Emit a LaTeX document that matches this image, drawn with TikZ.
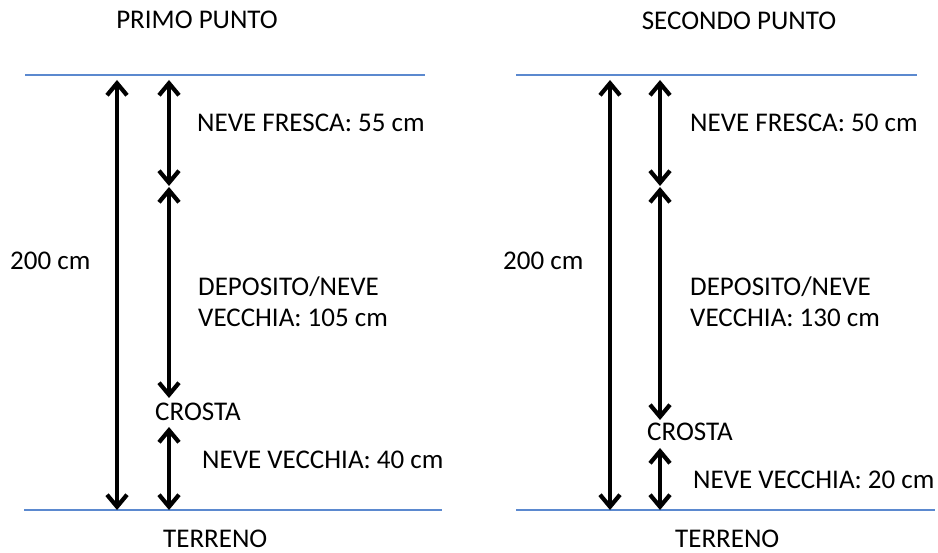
\documentclass[tikz,border=0pt]{standalone}
\usepackage{fontspec}
\setmainfont{Carlito}
\usetikzlibrary{arrows.meta}
\definecolor{lineblue}{RGB}{91,137,207}
\begin{document}
\begin{tikzpicture}[x=1pt,y=-1pt,
  ground/.style={draw=lineblue,line width=1.3pt},
  dim/.style={line width=4.2pt,{Straight Barb[length=12pt,width=20pt,line width=4.2pt]}-{Straight Barb[length=12pt,width=20pt,line width=4.2pt]}},
  lbl/.style={anchor=west,inner sep=0pt,font=\fontsize{27}{31}\selectfont,align=left},
  ttl/.style={anchor=center,inner sep=0pt,font=\fontsize{27}{31}\selectfont}]
\useasboundingbox (0,0) rectangle (938,553);
% ---------- left panel ----------
\coordinate (Ltl) at (25,75);
\coordinate (Ltr) at (425,75);
\coordinate (Lbl) at (24,510);
\coordinate (Lbr) at (442,510);
\draw[ground] (Ltl) -- (Ltr);
\draw[ground] (Lbl) -- (Lbr);
\node[ttl] (Ltitle) at (197,20) {PRIMO PUNTO};
\coordinate (LA1) at (117,80);
\coordinate (LA2) at (117,510);
\draw[dim] (LA1) -- (LA2);
\coordinate (LB1) at (169,80);
\coordinate (LB2) at (169,186);
\coordinate (LC1) at (169,187);
\coordinate (LC2) at (169,398);
\coordinate (LD1) at (169,427);
\coordinate (LD2) at (169,510);
\draw[dim] (LB1) -- (LB2);
\draw[dim] (LC1) -- (LC2);
\draw[dim] (LD1) -- (LD2);
\node[lbl] (Lfresca) at (197,123) {NEVE FRESCA: 55 cm};
\node[lbl] (Ltot) at (10,261) {200 cm};
\node[lbl] (Ldep) at (198,302) {DEPOSITO/NEVE\\VECCHIA: 105 cm};
\node[lbl] (Lcrosta) at (155,412) {CROSTA};
\node[lbl] (Lvecchia) at (202,460) {NEVE VECCHIA: 40 cm};
\node[lbl] (Lterreno) at (163,539) {TERRENO};
% ---------- right panel ----------
\coordinate (Rtl) at (516,75);
\coordinate (Rtr) at (917,75);
\coordinate (Rbl) at (516,510);
\coordinate (Rbr) at (935,510);
\draw[ground] (Rtl) -- (Rtr);
\draw[ground] (Rbl) -- (Rbr);
\node[ttl] (Rtitle) at (739,21) {SECONDO PUNTO};
\coordinate (RA1) at (610,80);
\coordinate (RA2) at (610,510);
\draw[dim] (RA1) -- (RA2);
\coordinate (RB1) at (660,80);
\coordinate (RB2) at (660,186);
\coordinate (RC1) at (660,187);
\coordinate (RC2) at (660,420);
\coordinate (RD1) at (660,448);
\coordinate (RD2) at (660,510);
\draw[dim] (RB1) -- (RB2);
\draw[dim] (RC1) -- (RC2);
\draw[dim] (RD1) -- (RD2);
\node[lbl] (Rfresca) at (690,123) {NEVE FRESCA: 50 cm};
\node[lbl] (Rtot) at (503,261) {200 cm};
\node[lbl] (Rdep) at (690,302) {DEPOSITO/NEVE\\VECCHIA: 130 cm};
\node[lbl] (Rcrosta) at (647,432) {CROSTA};
\node[lbl] (Rvecchia) at (693,480) {NEVE VECCHIA: 20 cm};
\node[lbl] (Rterreno) at (675,539) {TERRENO};
\end{tikzpicture}
\end{document}
